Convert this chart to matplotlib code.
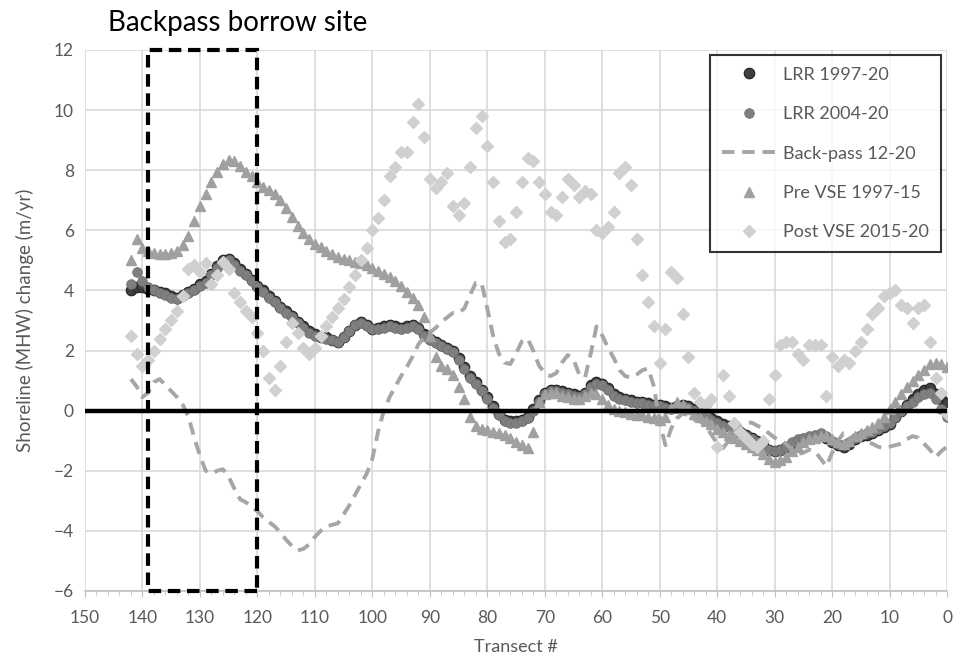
import matplotlib
matplotlib.use('Agg')
import matplotlib.pyplot as plt
from matplotlib.patches import Rectangle
from matplotlib.ticker import MultipleLocator

plt.rcParams['font.family'] = ['Lato', 'DejaVu Sans']

# transect numbers, 142 down to 0
transects = list(range(142, -1, -1))

lrr_1997_20 = [
    4.0, 4.1, 4.1, 4.05, 4.0, 3.95, 3.9, 3.8, 3.75, 3.85,
    3.95, 4.05, 4.2, 4.3, 4.55, 4.8, 5.0, 5.05, 4.9, 4.7,
    4.55, 4.35, 4.15, 4.0, 3.8, 3.65, 3.45, 3.3, 3.15, 2.95,
    2.8, 2.65, 2.55, 2.45, 2.45, 2.35, 2.3, 2.45, 2.65, 2.85,
    2.95, 2.85, 2.7, 2.75, 2.8, 2.85, 2.8, 2.75, 2.8, 2.85,
    2.75, 2.55, 2.4, 2.3, 2.2, 2.1, 2.0, 1.75, 1.45, 1.15,
    0.95, 0.7, 0.45, 0.15, -0.1, -0.3, -0.35, -0.35, -0.3, -0.2,
    0.05, 0.35, 0.6, 0.7, 0.7, 0.65, 0.6, 0.55, 0.5, 0.6,
    0.85, 0.95, 0.9, 0.75, 0.55, 0.45, 0.4, 0.35, 0.3, 0.3,
    0.25, 0.2, 0.2, 0.15, 0.1, 0.15, 0.2, 0.15, 0.05, 0.0,
    -0.1, -0.25, -0.35, -0.45, -0.5, -0.6, -0.7, -0.8, -0.9, -1.0,
    -1.15, -1.3, -1.35, -1.3, -1.2, -1.1, -1.0, -0.95, -0.9, -0.85,
    -0.8, -0.9, -1.05, -1.15, -1.2, -1.1, -0.95, -0.85, -0.8, -0.75,
    -0.65, -0.55, -0.45, -0.2, 0.0, 0.2, 0.4, 0.55, 0.7, 0.75,
    0.55, 0.4, 0.25,
]

lrr_2004_20 = [
    4.2, 4.6, 4.3, 4.1, 4.0, 3.9, 3.85, 3.75, 3.7, 3.8,
    3.9, 4.0, 4.15, 4.25, 4.5, 4.75, 4.95, 5.0, 4.85, 4.65,
    4.5, 4.3, 4.1, 3.95, 3.75, 3.6, 3.4, 3.25, 3.1, 2.9,
    2.75, 2.6, 2.5, 2.45, 2.4, 2.35, 2.3, 2.45, 2.65, 2.85,
    2.9, 2.8, 2.7, 2.7, 2.75, 2.8, 2.75, 2.7, 2.75, 2.8,
    2.7, 2.5, 2.35, 2.25, 2.15, 2.05, 1.95, 1.7, 1.4, 1.1,
    0.9, 0.65, 0.4, 0.1, -0.15, -0.35, -0.4, -0.4, -0.35, -0.25,
    0.0, 0.3, 0.55, 0.65, 0.65, 0.6, 0.55, 0.5, 0.45, 0.55,
    0.8, 0.9, 0.85, 0.7, 0.5, 0.4, 0.35, 0.3, 0.25, 0.25,
    0.2, 0.15, 0.15, 0.1, 0.05, 0.1, 0.15, 0.1, 0.0, -0.05,
    -0.15, -0.3, -0.4, -0.5, -0.55, -0.65, -0.75, -0.85, -0.95, -1.05,
    -1.2, -1.3, -1.35, -1.3, -1.2, -1.05, -0.95, -0.9, -0.85, -0.8,
    -0.75, -0.85, -1.0, -1.1, -1.15, -1.05, -0.9, -0.8, -0.75, -0.7,
    -0.6, -0.5, -0.4, -0.2, 0.0, 0.15, 0.3, 0.45, 0.55, 0.6,
    0.4, 0.05, -0.2,
]

backpass_12_20 = [
    1.05, 0.8, 0.45, 0.6, 0.95, 1.05, 0.85, 0.65, 0.45, 0.2,
    -0.2, -0.9, -1.5, -2.0, -2.1, -2.0, -1.95, -2.2, -2.6, -2.95,
    -3.05, -3.2, -3.35, -3.55, -3.7, -3.85, -4.05, -4.3, -4.5, -4.65,
    -4.6, -4.45, -4.2, -4.0, -3.85, -3.8, -3.75, -3.45, -3.15, -2.8,
    -2.45, -2.1, -1.6, -0.7, 0.0, 0.45, 0.8, 1.15, 1.45, 1.8,
    2.2, 2.45, 2.6, 2.75, 2.95, 3.1, 3.25, 3.25, 3.4, 3.85,
    4.25, 4.25, 3.4, 2.5, 1.9, 1.6, 1.55, 1.9, 2.3, 2.4,
    2.0, 1.5, 1.25, 1.15, 1.25, 1.6, 1.85, 1.7, 1.2, 1.1,
    1.9, 2.8, 2.5, 2.1, 1.75, 1.35, 1.15, 1.1, 1.2, 1.35,
    1.4, 0.8, -0.4, -1.15, -0.6, -0.25, -0.1, -0.15, -0.3, -0.35,
    -0.5, -0.8, -1.1, -1.25, -1.0, -0.7, -0.5, -0.4, -0.4, -0.5,
    -0.6, -0.75, -0.9, -1.0, -1.1, -1.3, -1.45, -1.4, -1.3, -1.35,
    -1.6, -1.85, -1.4, -1.0, -0.75, -0.8, -0.9, -1.0, -1.05, -1.1,
    -1.2, -1.25, -1.2, -1.15, -1.1, -0.95, -0.85, -0.9, -1.1, -1.3,
    -1.55, -1.35, -1.2,
]

pre_vse_1997_15 = [
    5.0, 5.7, 5.4, 5.3, 5.25, 5.2, 5.2, 5.25, 5.3, 5.5,
    5.8, 6.3, 6.8, 7.2, 7.6, 7.95, 8.2, 8.35, 8.3, 8.15,
    7.95, 7.8, 7.6, 7.45, 7.35, 7.2, 7.0, 6.75, 6.45, 6.15,
    5.9, 5.7, 5.55, 5.45, 5.3, 5.2, 5.1, 5.05, 5.0, 4.95,
    4.9, 4.85, 4.75, 4.65, 4.55, 4.45, 4.3, 4.15, 3.95, 3.75,
    3.5, 3.1, 2.5, 1.8, 1.5, 1.4, 1.2, 0.8, 0.4, -0.2,
    -0.5, -0.6, -0.65, -0.7, -0.75, -0.8, -0.9, -1.05, -1.15, -1.25,
    -0.7, 0.3, 0.55, 0.6, 0.6, 0.5, 0.45, 0.4, 0.4, 0.5,
    0.6, 0.55, 0.4, 0.2, 0.05, 0.0, -0.05, -0.1, -0.15, -0.15,
    -0.2, -0.25, -0.3, -0.2, 0.1, 0.3, 0.2, 0.05, -0.1, -0.2,
    -0.35, -0.45, -0.6, -0.7, -0.8, -0.9, -1.0, -1.1, -1.2, -1.3,
    -1.45, -1.6, -1.7, -1.65, -1.55, -1.35, -1.2, -1.05, -0.95, -0.9,
    -0.85, -0.85, -0.95, -1.05, -1.1, -1.0, -0.85, -0.75, -0.65, -0.55,
    -0.4, -0.2, 0.05, 0.3, 0.55, 0.8, 1.0, 1.2, 1.35, 1.55,
    1.6, 1.55, 1.45,
]

post_vse_2015_20 = [
    2.5, 1.9, 1.5, 1.7, 2.0, 2.4, 2.7, 3.0, 3.3, 3.8,
    4.7, 4.85, 4.6, 4.9, 4.2, 4.5, 4.95, 4.7, 3.9, 3.6,
    3.3, 3.1, 2.6, 2.0, 1.1, 0.7, 1.5, 2.3, 2.9, 2.6,
    2.1, 1.9, 2.1, 2.5, 2.8, 3.1, 3.4, 3.7, 4.1, 4.5,
    5.0, 5.4, 6.0, 6.4, 7.0, 7.8, 8.1, 8.6, 8.6, 9.6,
    10.2, 9.1, 7.7, 7.4, 7.6, 7.9, 6.8, 6.5, 6.9, 8.1,
    9.4, 9.8, 8.8, 7.6, 6.3, 5.6, 5.7, 6.6, 7.6, 8.4,
    8.3, 7.6, 7.2, 6.6, 6.5, 7.1, 7.7, 7.5, 7.1, 7.3,
    7.2, 6.0, 5.9, 6.1, 6.6, 7.9, 8.1, 7.5, 5.7, 4.5,
    3.6, 2.8, 1.6, 2.7, 4.6, 4.4, 3.2, 1.8, 0.6, 0.3,
    0.2, 0.4, -1.2, 1.2, 0.5, -0.4, -0.7, -0.9, -1.1, -1.2,
    -1.0, 0.4, 1.2, 2.2, 2.3, 2.3, 1.9, 1.7, 2.2, 2.2,
    2.2, 0.5, 1.8, 1.5, 1.7, 1.6, 2.0, 2.3, 2.7, 3.2,
    3.4, 3.8, 3.9, 4.0, 3.5, 3.4, 2.9, 3.4, 3.5, 2.3,
    1.1, 0.6, -0.1,
]

x_ticks = list(range(150, -1, -10))
y_ticks = list(range(-6, 13, 2))

fig = plt.figure(figsize=(9.55, 6.64), dpi=100)
ax = fig.add_axes([0.089, 0.110, 0.9027, 0.8147])

grey_txt = '#595959'

ax.plot(transects, lrr_1997_20, 'o', ms=7.5, color='#404040', mec='#262626',
        mew=0.9, ls='none', label='LRR 1997-20', zorder=3)
ax.plot(transects, lrr_2004_20, 'o', ms=7.0, color='#7f7f7f', mec='#707070',
        mew=0.5, ls='none', label='LRR 2004-20', zorder=4)
ax.plot(transects, backpass_12_20, color='#a6a6a6', lw=2.8, dashes=(3.2, 2.0),
        label='Back-pass 12-20', zorder=5)
ax.plot(transects, pre_vse_1997_15, '^', ms=7.5, color='#a0a0a0', mec='#a0a0a0',
        ls='none', label='Pre VSE 1997-15', zorder=6)
ax.plot(transects, post_vse_2015_20, 'D', ms=6.3, color='#d0d0d0', mec='#d0d0d0',
        ls='none', label='Post VSE 2015-20', zorder=7)

ax.axhline(0, color='black', lw=3.2, zorder=8)

# borrow site box
box = Rectangle((120, -6), 19, 18, fill=False, edgecolor='black', lw=3,
                ls=(0, (3, 1.6)), zorder=9, clip_on=False)
ax.add_patch(box)

ax.set_xlim(150, 0)
ax.set_ylim(-6, 12)
ax.set_xticks(x_ticks)
ax.set_yticks(y_ticks)
ax.xaxis.set_minor_locator(MultipleLocator(2))
ax.grid(True, which='major', color='#d9d9d9', lw=1.2, zorder=0)
ax.set_axisbelow(True)
for s in ['top', 'right', 'left']:
    ax.spines[s].set_visible(False)
ax.spines['bottom'].set_color('#bfbfbf')
ax.spines['bottom'].set_linewidth(1.2)
ax.tick_params(axis='both', colors=grey_txt, labelsize=12.5, length=0, pad=8)
ax.tick_params(axis='x', which='major', length=4, color='#bfbfbf', pad=10)
ax.tick_params(axis='x', which='minor', length=3, color='#bfbfbf')

ax.set_xlabel('Transect #', color=grey_txt, fontsize=13, labelpad=9)
ax.set_ylabel('Shoreline (MHW) change (m/yr)', color=grey_txt, fontsize=13.5, labelpad=14)

fig.text(0.113, 0.966, 'Backpass borrow site', fontsize=20, color='black',
         ha='left', va='center')

leg = ax.legend(loc='upper right', bbox_to_anchor=(0.993, 0.991), fontsize=13,
                frameon=True, fancybox=False, labelspacing=1.3, handlelength=3.0,
                borderpad=0.65, handletextpad=0.4, borderaxespad=0)
leg.get_frame().set_edgecolor('black')
leg.get_frame().set_linewidth(1.5)
leg.set_zorder(10)
for t in leg.get_texts():
    t.set_color(grey_txt)

fig.savefig('out.png', dpi=100, facecolor='white')
plt.close()
